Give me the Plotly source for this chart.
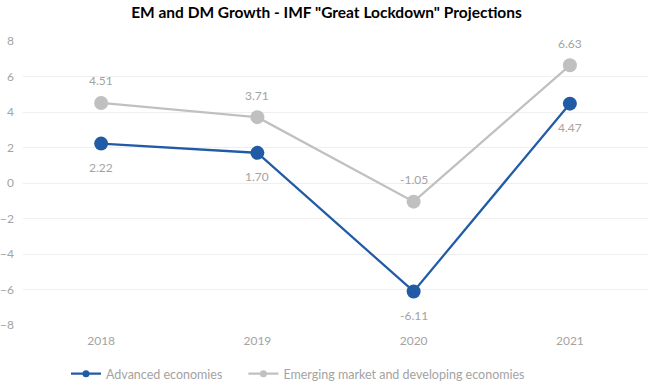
import plotly.graph_objects as go

years = ["2018", "2019", "2020", "2021"]
advanced = [2.22, 1.70, -6.11, 4.47]
emerging = [4.51, 3.71, -1.05, 6.63]
y_ticks = [-8, -6, -4, -2, 0, 2, 4, 6, 8]

FONT = "Lato, 'DejaVu Sans', sans-serif"
GRAY = "#a3a3a3"
BLUE = "#225ba5"
LGRAY = "#c0c0c0"

fig = go.Figure()
series = [("Advanced economies", advanced, BLUE, -24),
          ("Emerging market and developing economies", emerging, LGRAY, 22)]
for name, vals, col, shift in series:
    fig.add_trace(go.Scatter(
        x=years, y=vals, name=name, mode="lines+markers",
        line=dict(color=col, width=2.25), marker=dict(size=14, color=col),
        showlegend=False, cliponaxis=False, hoverinfo="skip",
    ))
    for i, v in enumerate(vals):
        fig.add_annotation(x=i, y=v, xref="x", yref="y", text=f"{v:.2f}", showarrow=False,
                           yshift=shift, font=dict(size=12, color=GRAY, family=FONT))
# legend entries with small markers
pad = "\u00a0" * 5
for k, (name, vals, col, shift) in enumerate(series):
    fig.add_trace(go.Scatter(
        x=[years[0]], y=[None], name=name + (pad if k == 0 else ""), mode="lines+markers",
        line=dict(color=col, width=2.25), marker=dict(size=7, color=col),
    ))

fig.update_layout(
    width=653, height=384,
    margin=dict(l=23, r=5, t=41, b=59, autoexpand=False),
    paper_bgcolor="white", plot_bgcolor="white",
    font=dict(family=FONT, color=GRAY, size=12),
    title=dict(text='<b>EM and DM Growth - IMF "Great Lockdown" Projections</b>',
               x=0.5, xanchor="center", yref="container", y=1 - 13 / 384, yanchor="middle",
               font=dict(size=15.5, color="#000000", family=FONT)),
    xaxis=dict(type="category", range=[-0.5, 3.5], showgrid=False, zeroline=False,
               showline=False, ticks="", tickfont=dict(size=12, color=GRAY),
               ticklabelstandoff=7),
    yaxis=dict(range=[-8, 8], tickvals=y_ticks, showgrid=True, gridcolor="#efefef",
               gridwidth=1, zeroline=False, showline=False, ticks="",
               tickfont=dict(size=12, color=GRAY), ticklabelstandoff=8),
    legend=dict(orientation="h", x=(66 - 23) / 625, xanchor="left", yref="container",
                y=1 - 374 / 384, yanchor="middle",
                font=dict(size=12.5, color=GRAY), itemwidth=30, traceorder="normal"),
    showlegend=True,
    hovermode=False,
)

fig.write_html("out.html", config={"displayModeBar": False},
               post_script="document.body.style.margin='0';document.body.style.overflow='hidden';")
